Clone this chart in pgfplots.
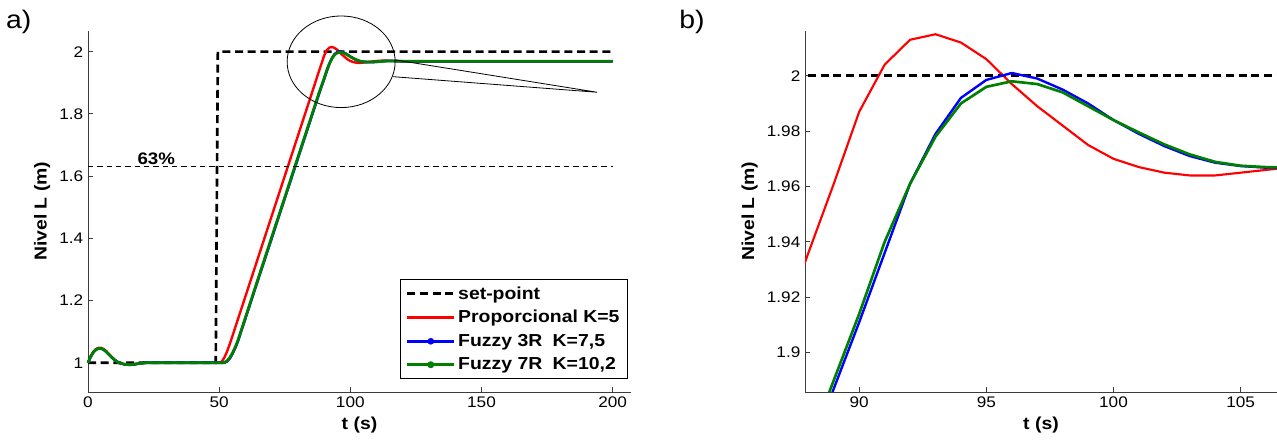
\documentclass[border=0pt]{standalone}
\usepackage{fontspec}
\setmainfont{Liberation Sans}[FakeStretch=1.12]
\usepackage{pgfplots}
\usepackage{pgfplotstable}
\pgfplotsset{compat=1.18}

\definecolor{mred}{RGB}{255,0,0}
\definecolor{mblue}{RGB}{0,0,255}
\definecolor{mgreen}{RGB}{0,128,0}
\definecolor{axgray}{RGB}{60,60,60}

% respuesta del nivel: set-point, proporcional, fuzzy 3R, fuzzy 7R
\pgfplotstableread{
t    red    blue    green
0    1.000  1.000   1.000
1    1.021  1.019   1.019
2    1.035  1.033   1.033
3    1.044  1.042   1.042
4    1.048  1.046   1.046
5    1.048  1.046   1.046
6    1.044  1.042   1.042
7    1.037  1.035   1.035
8    1.028  1.026   1.026
9    1.019  1.018   1.018
10   1.011  1.010   1.010
11   1.004  1.004   1.004
12   0.999  0.999   0.999
14   0.995  0.995   0.995
16   0.994  0.993   0.994
18   0.996  0.995   0.996
20   0.998  0.998   0.998
22   1.000  1.000   1.000
50   1.000  1.000   1.000
51   1.004  1.000   1.000
52   1.017  1.000   1.001
53   1.036  1.004   1.006
54   1.059  1.013   1.016
55   1.084  1.027   1.030
56   1.110  1.045   1.048
57   1.136  1.065   1.068
60   1.213  1.142   1.145
65   1.342  1.271   1.274
70   1.471  1.399   1.403
75   1.600  1.528   1.531
80   1.729  1.656   1.660
85   1.858  1.785   1.788
87   1.910  1.836   1.840
88   1.936  1.862   1.866
89   1.961  1.887   1.890
90   1.987  1.911   1.914
91   2.004  1.936   1.940
92   2.013  1.961   1.961
93   2.015  1.979   1.978
94   2.012  1.992   1.990
95   2.006  1.9985  1.996
96   1.997  2.001   1.998
97   1.989  1.999   1.997
98   1.982  1.995   1.994
99   1.975  1.990   1.989
100  1.970  1.984   1.984
101  1.967  1.979   1.9795
102  1.965  1.9746  1.9752
103  1.964  1.971   1.9716
104  1.964  1.9686  1.9689
105  1.965  1.9674  1.9675
106  1.966  1.9668  1.967
107  1.967  1.9665  1.9668
108  1.968  1.9665  1.9667
110  1.970  1.967   1.9675
112  1.971  1.969   1.969
114  1.971  1.970   1.970
116  1.970  1.9705  1.970
120  1.969  1.969   1.969
130  1.969  1.969   1.969
200  1.969  1.969   1.969
}\nivel

\pgfplotsset{
  mlstyle/.style={
    scale only axis,
    axis x line*=bottom, axis y line*=left,
    axis line style={draw=axgray, line width=0.7pt},
    tick style={draw=axgray, line width=0.6pt},
    major tick length=4pt,
    tick align=inside,
    ticklabel style={font=\fontsize{11.5}{13}\selectfont},
    /pgf/number format/assume math mode=true,
    label style={font=\bfseries\fontsize{13}{15}\selectfont},
    xlabel={t (s)},
    ylabel={Nivel L (m)},
  },
  spstyle/.style={black, line width=2pt, dash pattern=on 6pt off 3.5pt},
  lineleg/.style={legend image code/.code={\draw[##1] (0pt,0pt) -- (35pt,0pt);}},
  dotleg/.style={legend image code/.code={\draw[##1] (0pt,0pt) -- (35pt,0pt); \fill[#1] (17.5pt,0pt) circle (1.5pt);}},
}

\begin{document}
\begin{tikzpicture}
\useasboundingbox (0,0) rectangle (957.75pt,329.25pt);
\node[font=\fontsize{19}{22}\selectfont] at (14pt,313pt) {a)};
\node[font=\fontsize{19}{22}\selectfont] at (519pt,313pt) {b)};

\begin{axis}[mlstyle,
    at={(66pt,35.25pt)}, anchor=south west,
    width=407.25pt, height=271pt,
    xmin=0, xmax=207, ymin=0.906, ymax=2.0675,
    xtick={0,50,100,150,200},
    ytick={1,1.2,1.4,1.6,1.8,2},
    clip=false,
    legend style={at={(0.9945,0.036)}, anchor=south east,
        draw=black, line width=0.8pt, fill=white,
        font=\bfseries\fontsize{13}{15.5}\selectfont,
        row sep=3pt, inner xsep=4pt, inner ysep=3pt,
        /tikz/every even column/.append style={column sep=4pt}},
    legend cell align=left,
    lineleg,
]
\addplot[spstyle] coordinates {(0,1) (48.7,1) (49.5,2) (200,2)};
\addlegendentry{set-point}
\addplot[mred, line width=1.8pt] table[x=t, y=red] {\nivel};
\addlegendentry{Proporcional K=5}
\addplot[mblue, line width=1.9pt, dotleg=mblue] table[x=t, y=blue] {\nivel};
\addlegendentry{Fuzzy 3R\hspace{0.6em}K=7,5}
\addplot[mgreen, line width=2.1pt, dotleg=mgreen] table[x=t, y=green] {\nivel};
\addlegendentry{Fuzzy 7R\hspace{0.6em}K=10,2}
% linea del 63%
\addplot[black, line width=0.5pt, dash pattern=on 4pt off 3pt, forget plot] coordinates {(0,1.63) (200,1.63)};
\node[font=\bfseries\fontsize{12.5}{14}\selectfont, anchor=south, inner sep=1.5pt] at (axis cs:26,1.63) {63\%};
% zoom
\draw[black, line width=0.6pt] (axis cs:96.5,1.9675) ellipse [x radius=40.5pt, y radius=34.35pt];
\draw[black, line width=0.6pt] (axis cs:117.2,1.9733) -- (axis cs:194.1,1.8695) -- (axis cs:116.3,1.9196);
\end{axis}

\begin{axis}[mlstyle,
    at={(603.75pt,35.25pt)}, anchor=south west,
    width=354pt, height=271pt,
    xmin=87.87, xmax=106.43, ymin=1.8858, ymax=2.0163,
    xtick={90,95,100,105},
    ytick={1.9,1.92,1.94,1.96,1.98,2},
]
\addplot[spstyle] coordinates {(85,2) (110,2)};
\addplot[mred, line width=1.6pt] table[x=t, y=red] {\nivel};
\addplot[mblue, line width=1.8pt] table[x=t, y=blue] {\nivel};
\addplot[mgreen, line width=2pt] table[x=t, y=green] {\nivel};
\end{axis}
\end{tikzpicture}
\end{document}
